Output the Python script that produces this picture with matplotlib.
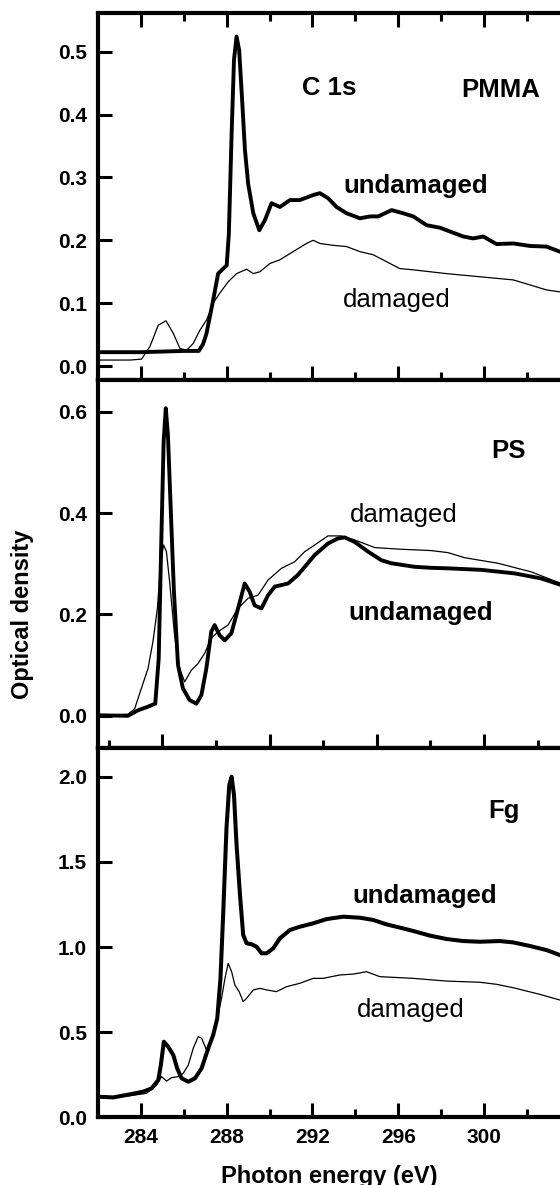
import matplotlib
matplotlib.use("Agg")
import matplotlib.pyplot as plt
from matplotlib.ticker import MultipleLocator, FixedLocator, FormatStrFormatter

# Photon energy (eV) / optical density
# PMMA
pmma_und_x = [282.0, 283.0, 284.0, 285.0, 286.0, 286.7, 286.9, 287.06, 287.37, 287.6, 287.84, 288.0,
              288.1, 288.23, 288.34, 288.46, 288.58, 288.72, 288.85, 289.0, 289.24, 289.52, 289.78,
              290.09, 290.48, 290.95, 291.41, 292.03, 292.34, 292.73, 293.12, 293.59, 294.21, 294.68,
              295.06, 295.69, 296.23, 296.7, 297.32, 297.94, 298.41, 299.03, 299.49, 299.96, 300.58,
              301.36, 302.14, 302.91, 303.53, 304.2]
pmma_und_y = [0.022, 0.022, 0.022, 0.023, 0.024, 0.024, 0.035, 0.052, 0.105, 0.147, 0.155, 0.160,
              0.210, 0.370, 0.487, 0.524, 0.503, 0.423, 0.344, 0.290, 0.243, 0.216, 0.232,
              0.259, 0.253, 0.264, 0.264, 0.272, 0.275, 0.267, 0.253, 0.243, 0.235, 0.238,
              0.238, 0.248, 0.243, 0.238, 0.224, 0.220, 0.214, 0.206, 0.203, 0.206, 0.194,
              0.195, 0.191, 0.190, 0.182, 0.176]
pmma_dam_x = [282.0, 283.5, 284.03, 284.42, 284.81, 285.17, 285.51, 285.82, 286.13, 286.44, 286.75,
              287.06, 287.37, 287.68, 288.07, 288.46, 288.93, 289.24, 289.55, 290.01, 290.48, 291.1,
              291.72, 292.03, 292.34, 292.97, 293.59, 294.21, 294.83, 295.45, 296.07, 296.7, 298.25,
              299.8, 301.36, 302.14, 302.91, 303.53, 304.2]
pmma_dam_y = [0.0095, 0.0095, 0.011, 0.031, 0.065, 0.072, 0.052, 0.028, 0.025, 0.036, 0.057,
              0.073, 0.100, 0.116, 0.134, 0.147, 0.154, 0.147, 0.150, 0.163, 0.169, 0.182,
              0.195, 0.200, 0.195, 0.192, 0.190, 0.182, 0.177, 0.166, 0.155, 0.153, 0.147,
              0.142, 0.137, 0.129, 0.121, 0.118, 0.116]

# PS
ps_und_x = [282.0, 283.4, 283.87, 284.33, 284.67, 284.83, 284.95, 285.06, 285.16, 285.26, 285.39,
            285.54, 285.73, 285.96, 286.27, 286.59, 286.82, 287.05, 287.28, 287.44, 287.67, 287.91,
            288.22, 288.53, 288.84, 289.07, 289.3, 289.62, 289.93, 290.24, 290.86, 291.32, 292.1,
            292.72, 293.19, 293.5, 293.97, 294.59, 295.21, 295.68, 296.76, 297.54, 298.32, 299.87,
            301.43, 302.67, 303.6, 304.2]
ps_und_y = [0.001, 0.0, 0.011, 0.018, 0.024, 0.113, 0.343, 0.541, 0.607, 0.554, 0.409,
            0.245, 0.100, 0.054, 0.031, 0.024, 0.041, 0.093, 0.166, 0.179, 0.159, 0.149,
            0.163, 0.212, 0.261, 0.245, 0.218, 0.212, 0.238, 0.255, 0.261, 0.278, 0.317,
            0.340, 0.350, 0.352, 0.343, 0.324, 0.307, 0.301, 0.294, 0.292, 0.291, 0.288,
            0.281, 0.271, 0.258, 0.252]
ps_dam_x = [282.0, 283.4, 283.71, 284.02, 284.33, 284.56, 284.77, 284.92, 285.06, 285.19, 285.34,
            285.57, 285.81, 286.04, 286.35, 286.66, 286.97, 287.28, 287.6, 288.06, 288.53, 289.0,
            289.46, 289.93, 290.55, 291.17, 291.64, 292.1, 292.72, 293.34, 293.97, 294.9, 295.99,
            297.54, 298.32, 299.09, 300.65, 302.2, 303.6, 304.2]
ps_dam_y = [0.001, 0.003, 0.014, 0.054, 0.093, 0.146, 0.212, 0.304, 0.337, 0.324, 0.264,
            0.159, 0.093, 0.067, 0.090, 0.103, 0.123, 0.153, 0.166, 0.179, 0.212, 0.232,
            0.238, 0.268, 0.291, 0.304, 0.324, 0.337, 0.355, 0.355, 0.347, 0.332, 0.329,
            0.326, 0.322, 0.312, 0.301, 0.284, 0.261, 0.255]

# Fg
fg_und_x = [282.0, 282.71, 283.49, 284.11, 284.5, 284.81, 284.93, 285.07, 285.27, 285.51, 285.69,
            285.9, 286.21, 286.52, 286.83, 287.14, 287.37, 287.56, 287.71, 287.84, 287.99, 288.12,
            288.23, 288.34, 288.46, 288.62, 288.77, 288.93, 289.16, 289.39, 289.63, 289.86, 290.17,
            290.48, 290.95, 291.41, 292.03, 292.66, 293.43, 294.21, 294.83, 295.45, 296.07, 296.7,
            297.47, 298.25, 299.03, 299.8, 300.74, 301.36, 302.14, 302.91, 303.53, 304.2]
fg_und_y = [0.121, 0.117, 0.135, 0.151, 0.170, 0.219, 0.307, 0.444, 0.415, 0.366, 0.288,
            0.229, 0.209, 0.229, 0.288, 0.405, 0.483, 0.581, 0.816, 1.207, 1.697, 1.951,
            2.000, 1.892, 1.599, 1.305, 1.070, 1.022, 1.016, 1.002, 0.963, 0.963, 0.992,
            1.051, 1.100, 1.119, 1.139, 1.164, 1.178, 1.172, 1.159, 1.133, 1.114, 1.094,
            1.067, 1.047, 1.035, 1.031, 1.035, 1.027, 1.006, 0.982, 0.953, 0.925]
fg_dam_x = [282.0, 283.49, 284.26, 284.73, 284.96, 285.2, 285.43, 285.74, 285.97, 286.21, 286.44,
            286.67, 286.83, 287.06, 287.29, 287.53, 287.76, 287.92, 288.07, 288.23, 288.38, 288.58,
            288.77, 288.93, 289.24, 289.55, 289.86, 290.32, 290.79, 291.41, 292.03, 292.5, 293.28,
            293.9, 294.52, 295.14, 296.7, 298.25, 299.8, 300.58, 301.36, 302.6, 303.53, 304.2]
fg_dam_y = [0.117, 0.127, 0.141, 0.190, 0.239, 0.213, 0.233, 0.239, 0.258, 0.307, 0.405,
            0.474, 0.464, 0.395, 0.464, 0.562, 0.699, 0.816, 0.904, 0.855, 0.777, 0.738,
            0.679, 0.699, 0.748, 0.757, 0.748, 0.738, 0.767, 0.787, 0.816, 0.816, 0.836,
            0.841, 0.855, 0.826, 0.816, 0.800, 0.793, 0.781, 0.761, 0.722, 0.689, 0.670]

# tick positions on the energy axis
ticks_4ev = [284, 288, 292, 296, 300]
minor_4ev = [286, 290, 294, 298, 302]
ticks_5ev = [285, 290, 295, 300]
minor_5ev = [282.5, 287.5, 292.5, 297.5, 302.5]

plt.rcParams['font.family'] = ['Liberation Sans', 'DejaVu Sans']
plt.rcParams['font.weight'] = 'bold'

fig = plt.figure(figsize=(5.6, 11.85), dpi=100)

# axes reach past the right edge of the figure, like the cropped original
ax1 = fig.add_axes([0.175, 0.6793, 0.8618, 0.3094])
ax2 = fig.add_axes([0.175, 0.3690, 0.8618, 0.3103])
ax3 = fig.add_axes([0.175, 0.0571, 0.8618, 0.3119])

ax1.plot(pmma_und_x, pmma_und_y, color='black', lw=2.8)
ax1.plot(pmma_dam_x, pmma_dam_y, color='black', lw=0.9)
ax2.plot(ps_und_x, ps_und_y, color='black', lw=2.8)
ax2.plot(ps_dam_x, ps_dam_y, color='black', lw=0.9)
ax3.plot(fg_und_x, fg_und_y, color='black', lw=2.9)
ax3.plot(fg_dam_x, fg_dam_y, color='black', lw=0.9)

ax1.set_ylim(-0.0223, 0.561)
ax2.set_ylim(-0.063, 0.6626)
ax3.set_ylim(0, 2.170)

for ax in (ax1, ax2, ax3):
    ax.set_xlim(282, 304.5)
    for s in ax.spines.values():
        s.set_linewidth(3)
    ax.tick_params(which='both', direction='in', width=2.2, labelsize=15, pad=8)
    ax.tick_params(which='major', length=10)
    ax.tick_params(which='minor', length=6)
    ax.tick_params(axis='y', which='minor', left=False)
    ax.yaxis.set_major_formatter(FormatStrFormatter('%.1f'))

ax1.xaxis.set_major_locator(FixedLocator(ticks_4ev))
ax1.xaxis.set_minor_locator(FixedLocator(minor_4ev))
ax1.yaxis.set_major_locator(MultipleLocator(0.1))
ax1.tick_params(axis='x', which='both', top=True, labelbottom=False)

ax2.xaxis.set_major_locator(FixedLocator(ticks_5ev))
ax2.xaxis.set_minor_locator(FixedLocator(minor_5ev))
ax2.yaxis.set_major_locator(MultipleLocator(0.2))
ax2.tick_params(axis='x', which='both', labelbottom=False)

ax3.xaxis.set_major_locator(FixedLocator(ticks_4ev))
ax3.xaxis.set_minor_locator(FixedLocator(minor_4ev))
ax3.yaxis.set_major_locator(MultipleLocator(0.5))

fs = 18.5
ax1.text(291.49, 0.431, "C 1s", fontsize=fs, fontweight='bold')
ax1.text(298.95, 0.4274, "PMMA", fontsize=fs, fontweight='bold')
ax1.text(293.42, 0.2747, "undamaged", fontsize=fs, fontweight='bold')
ax1.text(293.42, 0.0934, "damaged", fontsize=fs, fontweight='normal')

ax2.text(300.34, 0.508, "PS", fontsize=fs, fontweight='bold')
ax2.text(293.73, 0.383, "damaged", fontsize=fs, fontweight='normal')
ax2.text(293.66, 0.189, "undamaged", fontsize=fs, fontweight='bold')

ax3.text(300.19, 1.759, "Fg", fontsize=fs, fontweight='bold')
ax3.text(293.87, 1.260, "undamaged", fontsize=fs, fontweight='bold')
ax3.text(294.08, 0.591, "damaged", fontsize=fs, fontweight='normal')

fig.text(0.041, 0.4819, "Optical density", rotation=90, ha='center', va='center',
         fontsize=17, fontweight='bold')
fig.text(0.5875, 0.0015, "Photon energy (eV)", ha='center', va='baseline',
         fontsize=17, fontweight='bold')

fig.savefig("out.png", dpi=100)
